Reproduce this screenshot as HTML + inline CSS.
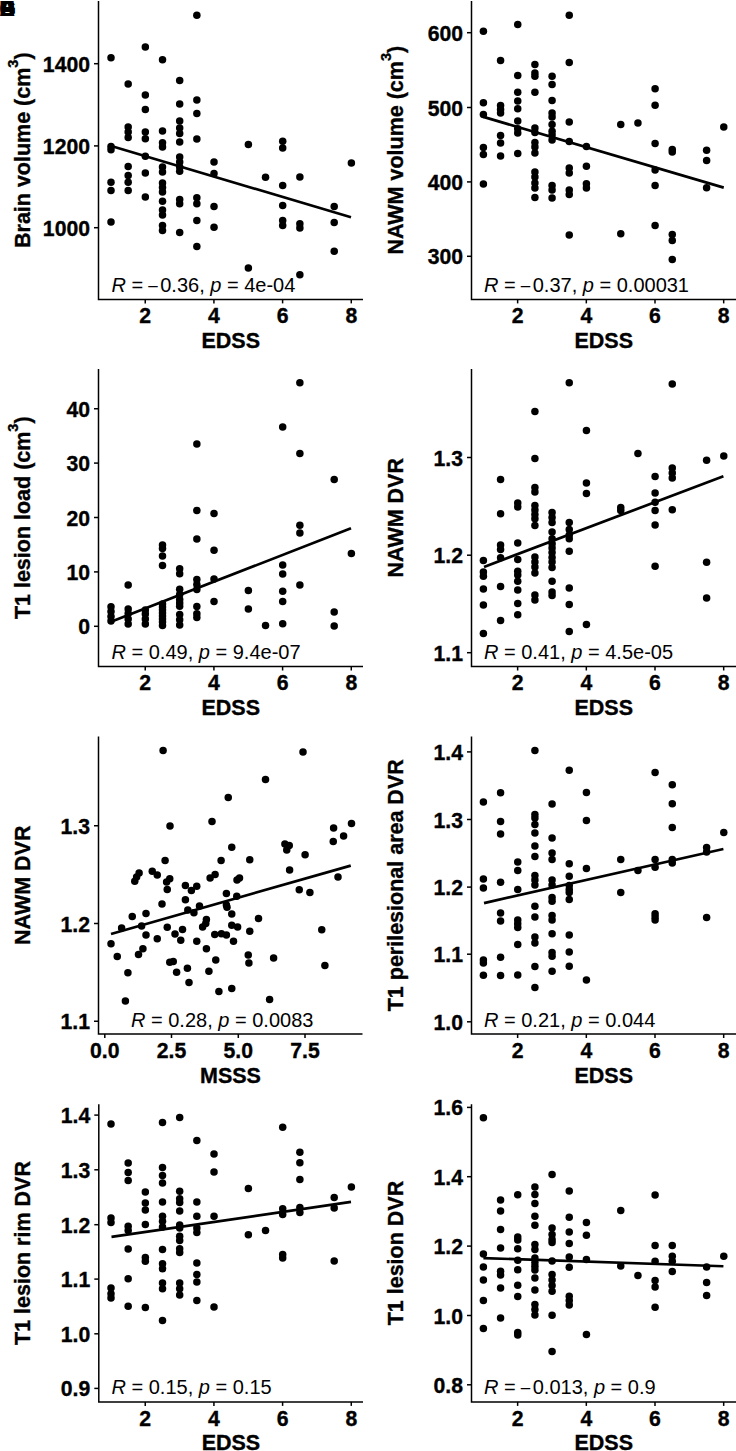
<!DOCTYPE html><html><head><meta charset="utf-8"><style>html,body{margin:0;padding:0;background:#fff;overflow:hidden}svg{display:block}text{font-family:"Liberation Sans", sans-serif;fill:#000}</style></head><body>
<svg width="736" height="1451" viewBox="0 0 736 1451">
<rect width="736" height="1451" fill="#fff"/>
<g font-weight="bold" font-size="21.5"><text x="-0.5" y="16">A</text><text x="-0.5" y="16">B</text><text x="-0.5" y="16">C</text><text x="-0.5" y="16">D</text><text x="-0.5" y="16">E</text><text x="-0.5" y="16">F</text><text x="-0.5" y="16">G</text><text x="-0.5" y="16">H</text></g>
<g><g fill="#000"><circle cx="111.00" cy="57.75" r="3.75"/><circle cx="111.00" cy="146.50" r="3.75"/><circle cx="111.00" cy="149.75" r="3.75"/><circle cx="111.00" cy="182.25" r="3.75"/><circle cx="111.00" cy="190.60" r="3.75"/><circle cx="111.00" cy="221.90" r="3.75"/><circle cx="128.17" cy="84.00" r="3.75"/><circle cx="128.17" cy="126.90" r="3.75"/><circle cx="128.17" cy="131.90" r="3.75"/><circle cx="128.17" cy="137.50" r="3.75"/><circle cx="128.17" cy="166.50" r="3.75"/><circle cx="128.17" cy="175.60" r="3.75"/><circle cx="128.17" cy="182.25" r="3.75"/><circle cx="128.17" cy="190.40" r="3.75"/><circle cx="145.34" cy="46.90" r="3.75"/><circle cx="145.34" cy="95.00" r="3.75"/><circle cx="145.34" cy="109.60" r="3.75"/><circle cx="145.34" cy="131.90" r="3.75"/><circle cx="145.34" cy="138.75" r="3.75"/><circle cx="145.34" cy="156.25" r="3.75"/><circle cx="145.34" cy="172.90" r="3.75"/><circle cx="145.34" cy="196.90" r="3.75"/><circle cx="162.51" cy="59.75" r="3.75"/><circle cx="162.51" cy="131.00" r="3.75"/><circle cx="162.51" cy="142.75" r="3.75"/><circle cx="162.51" cy="146.90" r="3.75"/><circle cx="162.51" cy="166.90" r="3.75"/><circle cx="162.51" cy="171.90" r="3.75"/><circle cx="162.51" cy="183.10" r="3.75"/><circle cx="162.51" cy="187.50" r="3.75"/><circle cx="162.51" cy="191.90" r="3.75"/><circle cx="162.51" cy="201.25" r="3.75"/><circle cx="162.51" cy="210.00" r="3.75"/><circle cx="162.51" cy="215.00" r="3.75"/><circle cx="162.51" cy="225.60" r="3.75"/><circle cx="162.51" cy="230.60" r="3.75"/><circle cx="179.68" cy="80.60" r="3.75"/><circle cx="179.68" cy="104.00" r="3.75"/><circle cx="179.68" cy="120.90" r="3.75"/><circle cx="179.68" cy="128.10" r="3.75"/><circle cx="179.68" cy="133.50" r="3.75"/><circle cx="179.68" cy="141.90" r="3.75"/><circle cx="179.68" cy="156.90" r="3.75"/><circle cx="179.68" cy="161.90" r="3.75"/><circle cx="179.68" cy="166.90" r="3.75"/><circle cx="179.68" cy="171.25" r="3.75"/><circle cx="179.68" cy="199.40" r="3.75"/><circle cx="179.68" cy="203.75" r="3.75"/><circle cx="179.68" cy="232.50" r="3.75"/><circle cx="196.85" cy="15.25" r="3.75"/><circle cx="196.85" cy="100.00" r="3.75"/><circle cx="196.85" cy="113.40" r="3.75"/><circle cx="196.85" cy="139.00" r="3.75"/><circle cx="196.85" cy="197.75" r="3.75"/><circle cx="196.85" cy="203.75" r="3.75"/><circle cx="196.85" cy="220.60" r="3.75"/><circle cx="196.85" cy="246.60" r="3.75"/><circle cx="214.02" cy="161.90" r="3.75"/><circle cx="214.02" cy="173.50" r="3.75"/><circle cx="214.02" cy="206.50" r="3.75"/><circle cx="214.02" cy="227.25" r="3.75"/><circle cx="248.36" cy="144.40" r="3.75"/><circle cx="248.36" cy="268.10" r="3.75"/><circle cx="265.53" cy="177.25" r="3.75"/><circle cx="282.70" cy="141.25" r="3.75"/><circle cx="282.70" cy="147.90" r="3.75"/><circle cx="282.70" cy="185.60" r="3.75"/><circle cx="282.70" cy="205.40" r="3.75"/><circle cx="282.70" cy="220.60" r="3.75"/><circle cx="282.70" cy="225.40" r="3.75"/><circle cx="299.87" cy="177.10" r="3.75"/><circle cx="299.87" cy="223.75" r="3.75"/><circle cx="299.87" cy="228.10" r="3.75"/><circle cx="299.87" cy="274.75" r="3.75"/><circle cx="334.21" cy="206.60" r="3.75"/><circle cx="334.21" cy="222.50" r="3.75"/><circle cx="334.21" cy="251.25" r="3.75"/><circle cx="351.38" cy="163.10" r="3.75"/></g><line x1="111.25" y1="146.0" x2="351" y2="217.3" stroke="#000" stroke-width="2.7"/><path d="M98.5 1 V299.4 H363" fill="none" stroke="#000" stroke-width="1.5"/><line x1="145.24" y1="299.4" x2="145.24" y2="303.4" stroke="#000" stroke-width="1.5"/><text transform="translate(145.24 323.2) scale(1 1.06)" text-anchor="middle" font-weight="bold" font-size="21.2" stroke="#000" stroke-width="0.35">2</text><line x1="213.92" y1="299.4" x2="213.92" y2="303.4" stroke="#000" stroke-width="1.5"/><text transform="translate(213.92 323.2) scale(1 1.06)" text-anchor="middle" font-weight="bold" font-size="21.2" stroke="#000" stroke-width="0.35">4</text><line x1="282.60" y1="299.4" x2="282.60" y2="303.4" stroke="#000" stroke-width="1.5"/><text transform="translate(282.60 323.2) scale(1 1.06)" text-anchor="middle" font-weight="bold" font-size="21.2" stroke="#000" stroke-width="0.35">6</text><line x1="351.28" y1="299.4" x2="351.28" y2="303.4" stroke="#000" stroke-width="1.5"/><text transform="translate(351.28 323.2) scale(1 1.06)" text-anchor="middle" font-weight="bold" font-size="21.2" stroke="#000" stroke-width="0.35">8</text><line x1="94.0" y1="63.7" x2="98.5" y2="63.7" stroke="#000" stroke-width="1.5"/><text transform="translate(90.0 71.7) scale(1 1.06)" text-anchor="end" font-weight="bold" font-size="21.2" stroke="#000" stroke-width="0.35">1400</text><line x1="94.0" y1="145.9" x2="98.5" y2="145.9" stroke="#000" stroke-width="1.5"/><text transform="translate(90.0 153.9) scale(1 1.06)" text-anchor="end" font-weight="bold" font-size="21.2" stroke="#000" stroke-width="0.35">1200</text><line x1="94.0" y1="227.7" x2="98.5" y2="227.7" stroke="#000" stroke-width="1.5"/><text transform="translate(90.0 235.7) scale(1 1.06)" text-anchor="end" font-weight="bold" font-size="21.2" stroke="#000" stroke-width="0.35">1000</text><text transform="translate(230.75 347.9) scale(1 1.04)" text-anchor="middle" font-weight="bold" font-size="21.5" stroke="#000" stroke-width="0.35">EDSS</text><text transform="translate(29.700000000000003 150.20) rotate(-90) scale(1 1.04)" text-anchor="middle" font-weight="bold" font-size="21.5" stroke="#000" stroke-width="0.35">Brain volume (cm<tspan dy="-11.5" font-size="14.5">3</tspan><tspan dy="11.5">)</tspan></text><text x="111.5" y="291.9" font-size="20.0"><tspan font-style="italic">R</tspan> = <tspan font-size="17" dy="-1.3" dx="-0.6">–</tspan><tspan dx="2.6" dy="1.3">0.36</tspan>, <tspan font-style="italic">p</tspan> = 4e-04</text></g>
<g><g fill="#000"><circle cx="483.40" cy="31.25" r="3.75"/><circle cx="483.40" cy="102.75" r="3.75"/><circle cx="483.40" cy="114.40" r="3.75"/><circle cx="483.40" cy="147.50" r="3.75"/><circle cx="483.40" cy="154.40" r="3.75"/><circle cx="483.40" cy="184.00" r="3.75"/><circle cx="500.57" cy="60.60" r="3.75"/><circle cx="500.57" cy="105.60" r="3.75"/><circle cx="500.57" cy="109.40" r="3.75"/><circle cx="500.57" cy="113.10" r="3.75"/><circle cx="500.57" cy="135.60" r="3.75"/><circle cx="500.57" cy="143.10" r="3.75"/><circle cx="500.57" cy="155.90" r="3.75"/><circle cx="517.74" cy="24.60" r="3.75"/><circle cx="517.74" cy="75.40" r="3.75"/><circle cx="517.74" cy="92.25" r="3.75"/><circle cx="517.74" cy="101.00" r="3.75"/><circle cx="517.74" cy="108.75" r="3.75"/><circle cx="517.74" cy="121.00" r="3.75"/><circle cx="517.74" cy="128.75" r="3.75"/><circle cx="517.74" cy="133.10" r="3.75"/><circle cx="517.74" cy="153.50" r="3.75"/><circle cx="534.91" cy="64.40" r="3.75"/><circle cx="534.91" cy="73.10" r="3.75"/><circle cx="534.91" cy="76.25" r="3.75"/><circle cx="534.91" cy="92.25" r="3.75"/><circle cx="534.91" cy="128.10" r="3.75"/><circle cx="534.91" cy="132.50" r="3.75"/><circle cx="534.91" cy="142.50" r="3.75"/><circle cx="534.91" cy="146.90" r="3.75"/><circle cx="534.91" cy="153.10" r="3.75"/><circle cx="534.91" cy="171.90" r="3.75"/><circle cx="534.91" cy="176.90" r="3.75"/><circle cx="534.91" cy="183.10" r="3.75"/><circle cx="534.91" cy="188.10" r="3.75"/><circle cx="534.91" cy="197.50" r="3.75"/><circle cx="552.08" cy="76.25" r="3.75"/><circle cx="552.08" cy="84.40" r="3.75"/><circle cx="552.08" cy="100.60" r="3.75"/><circle cx="552.08" cy="113.10" r="3.75"/><circle cx="552.08" cy="116.90" r="3.75"/><circle cx="552.08" cy="124.40" r="3.75"/><circle cx="552.08" cy="131.25" r="3.75"/><circle cx="552.08" cy="135.00" r="3.75"/><circle cx="552.08" cy="140.00" r="3.75"/><circle cx="552.08" cy="185.60" r="3.75"/><circle cx="552.08" cy="190.00" r="3.75"/><circle cx="552.08" cy="198.10" r="3.75"/><circle cx="569.25" cy="15.25" r="3.75"/><circle cx="569.25" cy="62.50" r="3.75"/><circle cx="569.25" cy="121.90" r="3.75"/><circle cx="569.25" cy="141.50" r="3.75"/><circle cx="569.25" cy="168.10" r="3.75"/><circle cx="569.25" cy="173.10" r="3.75"/><circle cx="569.25" cy="190.00" r="3.75"/><circle cx="569.25" cy="194.40" r="3.75"/><circle cx="569.25" cy="235.00" r="3.75"/><circle cx="586.42" cy="146.50" r="3.75"/><circle cx="586.42" cy="166.25" r="3.75"/><circle cx="586.42" cy="183.75" r="3.75"/><circle cx="586.42" cy="188.10" r="3.75"/><circle cx="620.76" cy="124.40" r="3.75"/><circle cx="620.76" cy="233.75" r="3.75"/><circle cx="637.93" cy="122.90" r="3.75"/><circle cx="655.10" cy="88.75" r="3.75"/><circle cx="655.10" cy="105.25" r="3.75"/><circle cx="655.10" cy="143.50" r="3.75"/><circle cx="655.10" cy="170.00" r="3.75"/><circle cx="655.10" cy="185.60" r="3.75"/><circle cx="655.10" cy="225.60" r="3.75"/><circle cx="672.27" cy="149.50" r="3.75"/><circle cx="672.27" cy="152.00" r="3.75"/><circle cx="672.27" cy="234.40" r="3.75"/><circle cx="672.27" cy="240.60" r="3.75"/><circle cx="672.27" cy="259.40" r="3.75"/><circle cx="706.61" cy="150.25" r="3.75"/><circle cx="706.61" cy="160.60" r="3.75"/><circle cx="706.61" cy="187.75" r="3.75"/><circle cx="723.78" cy="126.90" r="3.75"/></g><line x1="483.4" y1="116.9" x2="723.75" y2="187.6" stroke="#000" stroke-width="2.7"/><path d="M471.5 1 V299.4 H736" fill="none" stroke="#000" stroke-width="1.5"/><line x1="517.64" y1="299.4" x2="517.64" y2="303.4" stroke="#000" stroke-width="1.5"/><text transform="translate(517.64 323.2) scale(1 1.06)" text-anchor="middle" font-weight="bold" font-size="21.2" stroke="#000" stroke-width="0.35">2</text><line x1="586.32" y1="299.4" x2="586.32" y2="303.4" stroke="#000" stroke-width="1.5"/><text transform="translate(586.32 323.2) scale(1 1.06)" text-anchor="middle" font-weight="bold" font-size="21.2" stroke="#000" stroke-width="0.35">4</text><line x1="655.00" y1="299.4" x2="655.00" y2="303.4" stroke="#000" stroke-width="1.5"/><text transform="translate(655.00 323.2) scale(1 1.06)" text-anchor="middle" font-weight="bold" font-size="21.2" stroke="#000" stroke-width="0.35">6</text><line x1="723.68" y1="299.4" x2="723.68" y2="303.4" stroke="#000" stroke-width="1.5"/><text transform="translate(723.68 323.2) scale(1 1.06)" text-anchor="middle" font-weight="bold" font-size="21.2" stroke="#000" stroke-width="0.35">8</text><line x1="467.0" y1="32.7" x2="471.5" y2="32.7" stroke="#000" stroke-width="1.5"/><text transform="translate(463.0 40.7) scale(1 1.06)" text-anchor="end" font-weight="bold" font-size="21.2" stroke="#000" stroke-width="0.35">600</text><line x1="467.0" y1="107.5" x2="471.5" y2="107.5" stroke="#000" stroke-width="1.5"/><text transform="translate(463.0 115.5) scale(1 1.06)" text-anchor="end" font-weight="bold" font-size="21.2" stroke="#000" stroke-width="0.35">500</text><line x1="467.0" y1="181.9" x2="471.5" y2="181.9" stroke="#000" stroke-width="1.5"/><text transform="translate(463.0 189.9) scale(1 1.06)" text-anchor="end" font-weight="bold" font-size="21.2" stroke="#000" stroke-width="0.35">400</text><line x1="467.0" y1="256.3" x2="471.5" y2="256.3" stroke="#000" stroke-width="1.5"/><text transform="translate(463.0 264.3) scale(1 1.06)" text-anchor="end" font-weight="bold" font-size="21.2" stroke="#000" stroke-width="0.35">300</text><text transform="translate(603.75 347.9) scale(1 1.04)" text-anchor="middle" font-weight="bold" font-size="21.5" stroke="#000" stroke-width="0.35">EDSS</text><text transform="translate(402.7 150.20) rotate(-90) scale(1 1.04)" text-anchor="middle" font-weight="bold" font-size="21.5" stroke="#000" stroke-width="0.35">NAWM volume (cm<tspan dy="-11.5" font-size="14.5">3</tspan><tspan dy="11.5">)</tspan></text><text x="484" y="291.9" font-size="20.0"><tspan font-style="italic">R</tspan> = <tspan font-size="17" dy="-1.3" dx="-0.6">–</tspan><tspan dx="2.6" dy="1.3">0.37</tspan>, <tspan font-style="italic">p</tspan> = 0.00031</text></g>
<g><g fill="#000"><circle cx="111.00" cy="606.70" r="3.75"/><circle cx="111.00" cy="611.50" r="3.75"/><circle cx="111.00" cy="616.50" r="3.75"/><circle cx="111.00" cy="621.00" r="3.75"/><circle cx="128.17" cy="585.00" r="3.75"/><circle cx="128.17" cy="608.90" r="3.75"/><circle cx="128.17" cy="613.50" r="3.75"/><circle cx="128.17" cy="619.00" r="3.75"/><circle cx="128.17" cy="624.00" r="3.75"/><circle cx="145.34" cy="610.00" r="3.75"/><circle cx="145.34" cy="614.00" r="3.75"/><circle cx="145.34" cy="619.00" r="3.75"/><circle cx="145.34" cy="624.00" r="3.75"/><circle cx="162.51" cy="545.00" r="3.75"/><circle cx="162.51" cy="548.50" r="3.75"/><circle cx="162.51" cy="556.00" r="3.75"/><circle cx="162.51" cy="565.60" r="3.75"/><circle cx="162.51" cy="604.00" r="3.75"/><circle cx="162.51" cy="607.00" r="3.75"/><circle cx="162.51" cy="610.00" r="3.75"/><circle cx="162.51" cy="613.00" r="3.75"/><circle cx="162.51" cy="616.00" r="3.75"/><circle cx="162.51" cy="619.00" r="3.75"/><circle cx="162.51" cy="622.00" r="3.75"/><circle cx="162.51" cy="625.60" r="3.75"/><circle cx="179.68" cy="568.75" r="3.75"/><circle cx="179.68" cy="573.75" r="3.75"/><circle cx="179.68" cy="589.30" r="3.75"/><circle cx="179.68" cy="594.50" r="3.75"/><circle cx="179.68" cy="599.50" r="3.75"/><circle cx="179.68" cy="603.00" r="3.75"/><circle cx="179.68" cy="606.30" r="3.75"/><circle cx="179.68" cy="614.50" r="3.75"/><circle cx="179.68" cy="619.80" r="3.75"/><circle cx="179.68" cy="625.00" r="3.75"/><circle cx="196.85" cy="444.00" r="3.75"/><circle cx="196.85" cy="510.40" r="3.75"/><circle cx="196.85" cy="539.10" r="3.75"/><circle cx="196.85" cy="579.40" r="3.75"/><circle cx="196.85" cy="584.40" r="3.75"/><circle cx="196.85" cy="589.40" r="3.75"/><circle cx="196.85" cy="606.60" r="3.75"/><circle cx="196.85" cy="613.75" r="3.75"/><circle cx="196.85" cy="617.50" r="3.75"/><circle cx="214.02" cy="513.50" r="3.75"/><circle cx="214.02" cy="550.25" r="3.75"/><circle cx="214.02" cy="579.00" r="3.75"/><circle cx="214.02" cy="601.50" r="3.75"/><circle cx="248.36" cy="590.60" r="3.75"/><circle cx="248.36" cy="609.10" r="3.75"/><circle cx="265.53" cy="625.40" r="3.75"/><circle cx="282.70" cy="427.10" r="3.75"/><circle cx="282.70" cy="565.00" r="3.75"/><circle cx="282.70" cy="574.00" r="3.75"/><circle cx="282.70" cy="591.25" r="3.75"/><circle cx="282.70" cy="601.50" r="3.75"/><circle cx="282.70" cy="623.75" r="3.75"/><circle cx="299.87" cy="382.75" r="3.75"/><circle cx="299.87" cy="453.40" r="3.75"/><circle cx="299.87" cy="525.25" r="3.75"/><circle cx="299.87" cy="533.10" r="3.75"/><circle cx="299.87" cy="585.00" r="3.75"/><circle cx="334.21" cy="479.60" r="3.75"/><circle cx="334.21" cy="611.90" r="3.75"/><circle cx="334.21" cy="626.00" r="3.75"/><circle cx="351.38" cy="553.40" r="3.75"/></g><line x1="111" y1="621.8" x2="351" y2="528.3" stroke="#000" stroke-width="2.7"/><path d="M98.5 369 V666.5 H363" fill="none" stroke="#000" stroke-width="1.5"/><line x1="145.24" y1="666.5" x2="145.24" y2="670.5" stroke="#000" stroke-width="1.5"/><text transform="translate(145.24 690.3) scale(1 1.06)" text-anchor="middle" font-weight="bold" font-size="21.2" stroke="#000" stroke-width="0.35">2</text><line x1="213.92" y1="666.5" x2="213.92" y2="670.5" stroke="#000" stroke-width="1.5"/><text transform="translate(213.92 690.3) scale(1 1.06)" text-anchor="middle" font-weight="bold" font-size="21.2" stroke="#000" stroke-width="0.35">4</text><line x1="282.60" y1="666.5" x2="282.60" y2="670.5" stroke="#000" stroke-width="1.5"/><text transform="translate(282.60 690.3) scale(1 1.06)" text-anchor="middle" font-weight="bold" font-size="21.2" stroke="#000" stroke-width="0.35">6</text><line x1="351.28" y1="666.5" x2="351.28" y2="670.5" stroke="#000" stroke-width="1.5"/><text transform="translate(351.28 690.3) scale(1 1.06)" text-anchor="middle" font-weight="bold" font-size="21.2" stroke="#000" stroke-width="0.35">8</text><line x1="94.0" y1="408.75" x2="98.5" y2="408.75" stroke="#000" stroke-width="1.5"/><text transform="translate(90.0 416.75) scale(1 1.06)" text-anchor="end" font-weight="bold" font-size="21.2" stroke="#000" stroke-width="0.35">40</text><line x1="94.0" y1="463.1" x2="98.5" y2="463.1" stroke="#000" stroke-width="1.5"/><text transform="translate(90.0 471.1) scale(1 1.06)" text-anchor="end" font-weight="bold" font-size="21.2" stroke="#000" stroke-width="0.35">30</text><line x1="94.0" y1="517.5" x2="98.5" y2="517.5" stroke="#000" stroke-width="1.5"/><text transform="translate(90.0 525.5) scale(1 1.06)" text-anchor="end" font-weight="bold" font-size="21.2" stroke="#000" stroke-width="0.35">20</text><line x1="94.0" y1="571.9" x2="98.5" y2="571.9" stroke="#000" stroke-width="1.5"/><text transform="translate(90.0 579.9) scale(1 1.06)" text-anchor="end" font-weight="bold" font-size="21.2" stroke="#000" stroke-width="0.35">10</text><line x1="94.0" y1="626.3" x2="98.5" y2="626.3" stroke="#000" stroke-width="1.5"/><text transform="translate(90.0 634.3) scale(1 1.06)" text-anchor="end" font-weight="bold" font-size="21.2" stroke="#000" stroke-width="0.35">0</text><text transform="translate(230.75 715.0) scale(1 1.04)" text-anchor="middle" font-weight="bold" font-size="21.5" stroke="#000" stroke-width="0.35">EDSS</text><text transform="translate(29.700000000000003 517.75) rotate(-90) scale(1 1.04)" text-anchor="middle" font-weight="bold" font-size="21.5" stroke="#000" stroke-width="0.35">T1 lesion load (cm<tspan dy="-11.5" font-size="14.5">3</tspan><tspan dy="11.5">)</tspan></text><text x="111.5" y="659.0" font-size="20.0"><tspan font-style="italic">R</tspan> = 0.49, <tspan font-style="italic">p</tspan> = 9.4e-07</text></g>
<g><g fill="#000"><circle cx="483.40" cy="560.40" r="3.75"/><circle cx="483.40" cy="571.90" r="3.75"/><circle cx="483.40" cy="576.25" r="3.75"/><circle cx="483.40" cy="589.10" r="3.75"/><circle cx="483.40" cy="605.00" r="3.75"/><circle cx="483.40" cy="633.50" r="3.75"/><circle cx="500.57" cy="479.60" r="3.75"/><circle cx="500.57" cy="513.75" r="3.75"/><circle cx="500.57" cy="545.00" r="3.75"/><circle cx="500.57" cy="549.40" r="3.75"/><circle cx="500.57" cy="557.75" r="3.75"/><circle cx="500.57" cy="586.50" r="3.75"/><circle cx="500.57" cy="620.60" r="3.75"/><circle cx="517.74" cy="503.10" r="3.75"/><circle cx="517.74" cy="506.90" r="3.75"/><circle cx="517.74" cy="543.10" r="3.75"/><circle cx="517.74" cy="559.40" r="3.75"/><circle cx="517.74" cy="571.25" r="3.75"/><circle cx="517.74" cy="575.00" r="3.75"/><circle cx="517.74" cy="581.25" r="3.75"/><circle cx="517.74" cy="590.00" r="3.75"/><circle cx="517.74" cy="603.50" r="3.75"/><circle cx="517.74" cy="614.75" r="3.75"/><circle cx="534.91" cy="411.60" r="3.75"/><circle cx="534.91" cy="458.40" r="3.75"/><circle cx="534.91" cy="487.50" r="3.75"/><circle cx="534.91" cy="491.90" r="3.75"/><circle cx="534.91" cy="505.60" r="3.75"/><circle cx="534.91" cy="510.00" r="3.75"/><circle cx="534.91" cy="514.40" r="3.75"/><circle cx="534.91" cy="518.75" r="3.75"/><circle cx="534.91" cy="525.60" r="3.75"/><circle cx="534.91" cy="556.90" r="3.75"/><circle cx="534.91" cy="561.90" r="3.75"/><circle cx="534.91" cy="566.90" r="3.75"/><circle cx="534.91" cy="573.10" r="3.75"/><circle cx="534.91" cy="595.00" r="3.75"/><circle cx="534.91" cy="600.00" r="3.75"/><circle cx="552.08" cy="512.50" r="3.75"/><circle cx="552.08" cy="517.50" r="3.75"/><circle cx="552.08" cy="522.50" r="3.75"/><circle cx="552.08" cy="531.90" r="3.75"/><circle cx="552.08" cy="538.75" r="3.75"/><circle cx="552.08" cy="543.75" r="3.75"/><circle cx="552.08" cy="548.10" r="3.75"/><circle cx="552.08" cy="552.50" r="3.75"/><circle cx="552.08" cy="557.50" r="3.75"/><circle cx="552.08" cy="561.90" r="3.75"/><circle cx="552.08" cy="567.50" r="3.75"/><circle cx="552.08" cy="581.25" r="3.75"/><circle cx="552.08" cy="591.90" r="3.75"/><circle cx="552.08" cy="595.60" r="3.75"/><circle cx="569.25" cy="382.75" r="3.75"/><circle cx="569.25" cy="522.50" r="3.75"/><circle cx="569.25" cy="529.40" r="3.75"/><circle cx="569.25" cy="535.00" r="3.75"/><circle cx="569.25" cy="538.75" r="3.75"/><circle cx="569.25" cy="551.25" r="3.75"/><circle cx="569.25" cy="587.90" r="3.75"/><circle cx="569.25" cy="604.40" r="3.75"/><circle cx="569.25" cy="631.60" r="3.75"/><circle cx="586.42" cy="430.40" r="3.75"/><circle cx="586.42" cy="483.10" r="3.75"/><circle cx="586.42" cy="493.40" r="3.75"/><circle cx="586.42" cy="624.60" r="3.75"/><circle cx="620.76" cy="507.50" r="3.75"/><circle cx="620.76" cy="510.60" r="3.75"/><circle cx="637.93" cy="453.50" r="3.75"/><circle cx="655.10" cy="476.50" r="3.75"/><circle cx="655.10" cy="493.10" r="3.75"/><circle cx="655.10" cy="502.25" r="3.75"/><circle cx="655.10" cy="510.60" r="3.75"/><circle cx="655.10" cy="525.00" r="3.75"/><circle cx="655.10" cy="566.25" r="3.75"/><circle cx="672.27" cy="384.10" r="3.75"/><circle cx="672.27" cy="468.10" r="3.75"/><circle cx="672.27" cy="473.10" r="3.75"/><circle cx="672.27" cy="478.10" r="3.75"/><circle cx="672.27" cy="509.75" r="3.75"/><circle cx="706.61" cy="460.25" r="3.75"/><circle cx="706.61" cy="562.25" r="3.75"/><circle cx="706.61" cy="597.90" r="3.75"/><circle cx="723.78" cy="456.00" r="3.75"/></g><line x1="484" y1="566.9" x2="723.4" y2="476.25" stroke="#000" stroke-width="2.7"/><path d="M471.5 369 V666.5 H736" fill="none" stroke="#000" stroke-width="1.5"/><line x1="517.64" y1="666.5" x2="517.64" y2="670.5" stroke="#000" stroke-width="1.5"/><text transform="translate(517.64 690.3) scale(1 1.06)" text-anchor="middle" font-weight="bold" font-size="21.2" stroke="#000" stroke-width="0.35">2</text><line x1="586.32" y1="666.5" x2="586.32" y2="670.5" stroke="#000" stroke-width="1.5"/><text transform="translate(586.32 690.3) scale(1 1.06)" text-anchor="middle" font-weight="bold" font-size="21.2" stroke="#000" stroke-width="0.35">4</text><line x1="655.00" y1="666.5" x2="655.00" y2="670.5" stroke="#000" stroke-width="1.5"/><text transform="translate(655.00 690.3) scale(1 1.06)" text-anchor="middle" font-weight="bold" font-size="21.2" stroke="#000" stroke-width="0.35">6</text><line x1="723.68" y1="666.5" x2="723.68" y2="670.5" stroke="#000" stroke-width="1.5"/><text transform="translate(723.68 690.3) scale(1 1.06)" text-anchor="middle" font-weight="bold" font-size="21.2" stroke="#000" stroke-width="0.35">8</text><line x1="467.0" y1="457.5" x2="471.5" y2="457.5" stroke="#000" stroke-width="1.5"/><text transform="translate(463.0 465.5) scale(1 1.06)" text-anchor="end" font-weight="bold" font-size="21.2" stroke="#000" stroke-width="0.35">1.3</text><line x1="467.0" y1="555.2" x2="471.5" y2="555.2" stroke="#000" stroke-width="1.5"/><text transform="translate(463.0 563.2) scale(1 1.06)" text-anchor="end" font-weight="bold" font-size="21.2" stroke="#000" stroke-width="0.35">1.2</text><line x1="467.0" y1="652.7" x2="471.5" y2="652.7" stroke="#000" stroke-width="1.5"/><text transform="translate(463.0 660.7) scale(1 1.06)" text-anchor="end" font-weight="bold" font-size="21.2" stroke="#000" stroke-width="0.35">1.1</text><text transform="translate(603.75 715.0) scale(1 1.04)" text-anchor="middle" font-weight="bold" font-size="21.5" stroke="#000" stroke-width="0.35">EDSS</text><text transform="translate(402.7 517.75) rotate(-90) scale(1 1.04)" text-anchor="middle" font-weight="bold" font-size="21.5" stroke="#000" stroke-width="0.35">NAWM DVR</text><text x="484" y="659.0" font-size="20.0"><tspan font-style="italic">R</tspan> = 0.41, <tspan font-style="italic">p</tspan> = 4.5e-05</text></g>
<g><g fill="#000"><circle cx="163.10" cy="750.40" r="3.75"/><circle cx="170.00" cy="825.90" r="3.75"/><circle cx="165.10" cy="860.60" r="3.75"/><circle cx="139.10" cy="873.10" r="3.75"/><circle cx="136.60" cy="876.90" r="3.75"/><circle cx="134.75" cy="881.25" r="3.75"/><circle cx="152.25" cy="871.25" r="3.75"/><circle cx="157.25" cy="875.00" r="3.75"/><circle cx="169.75" cy="878.75" r="3.75"/><circle cx="166.60" cy="881.90" r="3.75"/><circle cx="167.25" cy="889.40" r="3.75"/><circle cx="185.40" cy="885.60" r="3.75"/><circle cx="162.00" cy="904.10" r="3.75"/><circle cx="185.40" cy="899.75" r="3.75"/><circle cx="187.80" cy="910.00" r="3.75"/><circle cx="132.25" cy="916.50" r="3.75"/><circle cx="146.00" cy="913.50" r="3.75"/><circle cx="121.60" cy="927.90" r="3.75"/><circle cx="141.60" cy="926.00" r="3.75"/><circle cx="167.25" cy="927.25" r="3.75"/><circle cx="182.50" cy="929.40" r="3.75"/><circle cx="175.00" cy="934.00" r="3.75"/><circle cx="180.75" cy="940.25" r="3.75"/><circle cx="146.00" cy="935.00" r="3.75"/><circle cx="157.25" cy="938.75" r="3.75"/><circle cx="111.00" cy="943.75" r="3.75"/><circle cx="142.90" cy="948.75" r="3.75"/><circle cx="138.50" cy="954.40" r="3.75"/><circle cx="117.25" cy="956.60" r="3.75"/><circle cx="169.75" cy="962.25" r="3.75"/><circle cx="173.25" cy="961.60" r="3.75"/><circle cx="176.60" cy="972.25" r="3.75"/><circle cx="187.40" cy="968.20" r="3.75"/><circle cx="189.00" cy="982.50" r="3.75"/><circle cx="127.90" cy="972.75" r="3.75"/><circle cx="125.40" cy="1001.00" r="3.75"/><circle cx="265.50" cy="779.40" r="3.75"/><circle cx="228.25" cy="797.50" r="3.75"/><circle cx="212.00" cy="821.50" r="3.75"/><circle cx="231.75" cy="847.25" r="3.75"/><circle cx="221.10" cy="860.60" r="3.75"/><circle cx="249.75" cy="859.75" r="3.75"/><circle cx="215.10" cy="874.60" r="3.75"/><circle cx="210.10" cy="878.10" r="3.75"/><circle cx="239.50" cy="878.10" r="3.75"/><circle cx="237.00" cy="880.00" r="3.75"/><circle cx="196.75" cy="886.25" r="3.75"/><circle cx="191.40" cy="890.50" r="3.75"/><circle cx="226.40" cy="893.50" r="3.75"/><circle cx="236.75" cy="896.25" r="3.75"/><circle cx="199.50" cy="906.00" r="3.75"/><circle cx="226.40" cy="905.00" r="3.75"/><circle cx="227.00" cy="907.25" r="3.75"/><circle cx="193.90" cy="912.75" r="3.75"/><circle cx="231.75" cy="914.00" r="3.75"/><circle cx="258.50" cy="918.50" r="3.75"/><circle cx="206.40" cy="919.40" r="3.75"/><circle cx="205.75" cy="923.50" r="3.75"/><circle cx="202.60" cy="926.90" r="3.75"/><circle cx="231.75" cy="925.25" r="3.75"/><circle cx="237.60" cy="926.90" r="3.75"/><circle cx="249.75" cy="931.25" r="3.75"/><circle cx="214.75" cy="934.40" r="3.75"/><circle cx="221.40" cy="933.75" r="3.75"/><circle cx="226.40" cy="935.00" r="3.75"/><circle cx="196.75" cy="941.25" r="3.75"/><circle cx="233.50" cy="941.25" r="3.75"/><circle cx="206.40" cy="948.75" r="3.75"/><circle cx="248.25" cy="955.00" r="3.75"/><circle cx="248.90" cy="963.10" r="3.75"/><circle cx="215.75" cy="960.00" r="3.75"/><circle cx="273.60" cy="958.10" r="3.75"/><circle cx="208.90" cy="971.25" r="3.75"/><circle cx="218.90" cy="991.60" r="3.75"/><circle cx="231.75" cy="988.50" r="3.75"/><circle cx="269.60" cy="999.40" r="3.75"/><circle cx="303.00" cy="751.90" r="3.75"/><circle cx="333.60" cy="827.90" r="3.75"/><circle cx="351.50" cy="823.50" r="3.75"/><circle cx="343.60" cy="835.90" r="3.75"/><circle cx="333.25" cy="841.50" r="3.75"/><circle cx="284.90" cy="844.00" r="3.75"/><circle cx="289.25" cy="845.60" r="3.75"/><circle cx="286.75" cy="850.00" r="3.75"/><circle cx="305.10" cy="854.75" r="3.75"/><circle cx="289.60" cy="870.00" r="3.75"/><circle cx="338.00" cy="876.90" r="3.75"/><circle cx="299.25" cy="889.75" r="3.75"/><circle cx="309.90" cy="892.50" r="3.75"/><circle cx="321.75" cy="929.75" r="3.75"/><circle cx="324.90" cy="965.60" r="3.75"/></g><line x1="111" y1="934" x2="350.75" y2="865.6" stroke="#000" stroke-width="2.7"/><path d="M98.5 736.5 V1034 H362.5" fill="none" stroke="#000" stroke-width="1.5"/><line x1="104.80" y1="1034" x2="104.80" y2="1038" stroke="#000" stroke-width="1.5"/><text transform="translate(104.80 1057.8) scale(1 1.06)" text-anchor="middle" font-weight="bold" font-size="21.2" stroke="#000" stroke-width="0.35">0.0</text><line x1="171.50" y1="1034" x2="171.50" y2="1038" stroke="#000" stroke-width="1.5"/><text transform="translate(171.50 1057.8) scale(1 1.06)" text-anchor="middle" font-weight="bold" font-size="21.2" stroke="#000" stroke-width="0.35">2.5</text><line x1="238.30" y1="1034" x2="238.30" y2="1038" stroke="#000" stroke-width="1.5"/><text transform="translate(238.30 1057.8) scale(1 1.06)" text-anchor="middle" font-weight="bold" font-size="21.2" stroke="#000" stroke-width="0.35">5.0</text><line x1="305.00" y1="1034" x2="305.00" y2="1038" stroke="#000" stroke-width="1.5"/><text transform="translate(305.00 1057.8) scale(1 1.06)" text-anchor="middle" font-weight="bold" font-size="21.2" stroke="#000" stroke-width="0.35">7.5</text><line x1="94.0" y1="825.75" x2="98.5" y2="825.75" stroke="#000" stroke-width="1.5"/><text transform="translate(90.0 833.75) scale(1 1.06)" text-anchor="end" font-weight="bold" font-size="21.2" stroke="#000" stroke-width="0.35">1.3</text><line x1="94.0" y1="923.5" x2="98.5" y2="923.5" stroke="#000" stroke-width="1.5"/><text transform="translate(90.0 931.5) scale(1 1.06)" text-anchor="end" font-weight="bold" font-size="21.2" stroke="#000" stroke-width="0.35">1.2</text><line x1="94.0" y1="1021.25" x2="98.5" y2="1021.25" stroke="#000" stroke-width="1.5"/><text transform="translate(90.0 1029.25) scale(1 1.06)" text-anchor="end" font-weight="bold" font-size="21.2" stroke="#000" stroke-width="0.35">1.1</text><text transform="translate(230.50 1082.5) scale(1 1.04)" text-anchor="middle" font-weight="bold" font-size="21.5" stroke="#000" stroke-width="0.35">MSSS</text><text transform="translate(29.700000000000003 885.25) rotate(-90) scale(1 1.04)" text-anchor="middle" font-weight="bold" font-size="21.5" stroke="#000" stroke-width="0.35">NAWM DVR</text><text x="131" y="1026.5" font-size="20.0"><tspan font-style="italic">R</tspan> = 0.28, <tspan font-style="italic">p</tspan> = 0.0083</text></g>
<g><g fill="#000"><circle cx="483.40" cy="801.90" r="3.75"/><circle cx="483.40" cy="879.00" r="3.75"/><circle cx="483.40" cy="888.10" r="3.75"/><circle cx="483.40" cy="960.00" r="3.75"/><circle cx="483.40" cy="963.10" r="3.75"/><circle cx="483.40" cy="975.25" r="3.75"/><circle cx="500.57" cy="792.75" r="3.75"/><circle cx="500.57" cy="821.50" r="3.75"/><circle cx="500.57" cy="834.00" r="3.75"/><circle cx="500.57" cy="882.25" r="3.75"/><circle cx="500.57" cy="913.10" r="3.75"/><circle cx="500.57" cy="921.00" r="3.75"/><circle cx="500.57" cy="957.25" r="3.75"/><circle cx="500.57" cy="975.60" r="3.75"/><circle cx="517.74" cy="861.90" r="3.75"/><circle cx="517.74" cy="870.60" r="3.75"/><circle cx="517.74" cy="889.40" r="3.75"/><circle cx="517.74" cy="920.00" r="3.75"/><circle cx="517.74" cy="923.75" r="3.75"/><circle cx="517.74" cy="927.50" r="3.75"/><circle cx="517.74" cy="944.40" r="3.75"/><circle cx="517.74" cy="975.00" r="3.75"/><circle cx="534.91" cy="750.60" r="3.75"/><circle cx="534.91" cy="814.40" r="3.75"/><circle cx="534.91" cy="818.10" r="3.75"/><circle cx="534.91" cy="824.40" r="3.75"/><circle cx="534.91" cy="833.10" r="3.75"/><circle cx="534.91" cy="846.00" r="3.75"/><circle cx="534.91" cy="856.50" r="3.75"/><circle cx="534.91" cy="875.60" r="3.75"/><circle cx="534.91" cy="880.00" r="3.75"/><circle cx="534.91" cy="885.00" r="3.75"/><circle cx="534.91" cy="906.25" r="3.75"/><circle cx="534.91" cy="916.90" r="3.75"/><circle cx="534.91" cy="936.90" r="3.75"/><circle cx="534.91" cy="943.10" r="3.75"/><circle cx="534.91" cy="966.50" r="3.75"/><circle cx="534.91" cy="987.50" r="3.75"/><circle cx="552.08" cy="804.00" r="3.75"/><circle cx="552.08" cy="837.90" r="3.75"/><circle cx="552.08" cy="853.10" r="3.75"/><circle cx="552.08" cy="859.40" r="3.75"/><circle cx="552.08" cy="880.00" r="3.75"/><circle cx="552.08" cy="885.00" r="3.75"/><circle cx="552.08" cy="897.50" r="3.75"/><circle cx="552.08" cy="901.25" r="3.75"/><circle cx="552.08" cy="915.60" r="3.75"/><circle cx="552.08" cy="920.00" r="3.75"/><circle cx="552.08" cy="933.75" r="3.75"/><circle cx="552.08" cy="952.50" r="3.75"/><circle cx="552.08" cy="956.25" r="3.75"/><circle cx="552.08" cy="971.25" r="3.75"/><circle cx="569.25" cy="770.25" r="3.75"/><circle cx="569.25" cy="863.75" r="3.75"/><circle cx="569.25" cy="876.25" r="3.75"/><circle cx="569.25" cy="885.60" r="3.75"/><circle cx="569.25" cy="889.40" r="3.75"/><circle cx="569.25" cy="892.50" r="3.75"/><circle cx="569.25" cy="899.40" r="3.75"/><circle cx="569.25" cy="935.00" r="3.75"/><circle cx="569.25" cy="951.90" r="3.75"/><circle cx="569.25" cy="966.25" r="3.75"/><circle cx="586.42" cy="792.50" r="3.75"/><circle cx="586.42" cy="820.60" r="3.75"/><circle cx="586.42" cy="868.50" r="3.75"/><circle cx="586.42" cy="980.00" r="3.75"/><circle cx="620.76" cy="859.40" r="3.75"/><circle cx="620.76" cy="892.50" r="3.75"/><circle cx="637.93" cy="870.60" r="3.75"/><circle cx="655.10" cy="772.50" r="3.75"/><circle cx="655.10" cy="859.40" r="3.75"/><circle cx="655.10" cy="867.25" r="3.75"/><circle cx="655.10" cy="913.75" r="3.75"/><circle cx="655.10" cy="916.90" r="3.75"/><circle cx="655.10" cy="920.00" r="3.75"/><circle cx="672.27" cy="784.75" r="3.75"/><circle cx="672.27" cy="803.75" r="3.75"/><circle cx="672.27" cy="827.50" r="3.75"/><circle cx="672.27" cy="859.40" r="3.75"/><circle cx="672.27" cy="863.10" r="3.75"/><circle cx="706.61" cy="847.50" r="3.75"/><circle cx="706.61" cy="851.90" r="3.75"/><circle cx="706.61" cy="917.50" r="3.75"/><circle cx="723.78" cy="832.50" r="3.75"/></g><line x1="484" y1="903.1" x2="723.4" y2="849" stroke="#000" stroke-width="2.7"/><path d="M471.5 736.5 V1034 H736" fill="none" stroke="#000" stroke-width="1.5"/><line x1="517.64" y1="1034" x2="517.64" y2="1038" stroke="#000" stroke-width="1.5"/><text transform="translate(517.64 1057.8) scale(1 1.06)" text-anchor="middle" font-weight="bold" font-size="21.2" stroke="#000" stroke-width="0.35">2</text><line x1="586.32" y1="1034" x2="586.32" y2="1038" stroke="#000" stroke-width="1.5"/><text transform="translate(586.32 1057.8) scale(1 1.06)" text-anchor="middle" font-weight="bold" font-size="21.2" stroke="#000" stroke-width="0.35">4</text><line x1="655.00" y1="1034" x2="655.00" y2="1038" stroke="#000" stroke-width="1.5"/><text transform="translate(655.00 1057.8) scale(1 1.06)" text-anchor="middle" font-weight="bold" font-size="21.2" stroke="#000" stroke-width="0.35">6</text><line x1="723.68" y1="1034" x2="723.68" y2="1038" stroke="#000" stroke-width="1.5"/><text transform="translate(723.68 1057.8) scale(1 1.06)" text-anchor="middle" font-weight="bold" font-size="21.2" stroke="#000" stroke-width="0.35">8</text><line x1="467.0" y1="751.9" x2="471.5" y2="751.9" stroke="#000" stroke-width="1.5"/><text transform="translate(463.0 759.9) scale(1 1.06)" text-anchor="end" font-weight="bold" font-size="21.2" stroke="#000" stroke-width="0.35">1.4</text><line x1="467.0" y1="819.5" x2="471.5" y2="819.5" stroke="#000" stroke-width="1.5"/><text transform="translate(463.0 827.5) scale(1 1.06)" text-anchor="end" font-weight="bold" font-size="21.2" stroke="#000" stroke-width="0.35">1.3</text><line x1="467.0" y1="887.1" x2="471.5" y2="887.1" stroke="#000" stroke-width="1.5"/><text transform="translate(463.0 895.1) scale(1 1.06)" text-anchor="end" font-weight="bold" font-size="21.2" stroke="#000" stroke-width="0.35">1.2</text><line x1="467.0" y1="954.2" x2="471.5" y2="954.2" stroke="#000" stroke-width="1.5"/><text transform="translate(463.0 962.2) scale(1 1.06)" text-anchor="end" font-weight="bold" font-size="21.2" stroke="#000" stroke-width="0.35">1.1</text><line x1="467.0" y1="1021.8" x2="471.5" y2="1021.8" stroke="#000" stroke-width="1.5"/><text transform="translate(463.0 1029.8) scale(1 1.06)" text-anchor="end" font-weight="bold" font-size="21.2" stroke="#000" stroke-width="0.35">1.0</text><text transform="translate(603.75 1082.5) scale(1 1.04)" text-anchor="middle" font-weight="bold" font-size="21.5" stroke="#000" stroke-width="0.35">EDSS</text><text transform="translate(402.7 885.25) rotate(-90) scale(1 1.04)" text-anchor="middle" font-weight="bold" font-size="21.5" stroke="#000" stroke-width="0.35">T1 perilesional area DVR</text><text x="484" y="1026.5" font-size="20.0"><tspan font-style="italic">R</tspan> = 0.21, <tspan font-style="italic">p</tspan> = 0.044</text></g>
<g><g fill="#000"><circle cx="111.00" cy="1124.00" r="3.75"/><circle cx="111.00" cy="1218.10" r="3.75"/><circle cx="111.00" cy="1222.50" r="3.75"/><circle cx="111.00" cy="1288.10" r="3.75"/><circle cx="111.00" cy="1293.75" r="3.75"/><circle cx="111.00" cy="1298.10" r="3.75"/><circle cx="128.17" cy="1163.10" r="3.75"/><circle cx="128.17" cy="1172.50" r="3.75"/><circle cx="128.17" cy="1180.60" r="3.75"/><circle cx="128.17" cy="1226.25" r="3.75"/><circle cx="128.17" cy="1230.60" r="3.75"/><circle cx="128.17" cy="1249.00" r="3.75"/><circle cx="128.17" cy="1278.75" r="3.75"/><circle cx="128.17" cy="1306.25" r="3.75"/><circle cx="145.34" cy="1191.90" r="3.75"/><circle cx="145.34" cy="1203.10" r="3.75"/><circle cx="145.34" cy="1210.00" r="3.75"/><circle cx="145.34" cy="1224.60" r="3.75"/><circle cx="145.34" cy="1257.50" r="3.75"/><circle cx="145.34" cy="1261.25" r="3.75"/><circle cx="145.34" cy="1307.50" r="3.75"/><circle cx="162.51" cy="1122.50" r="3.75"/><circle cx="162.51" cy="1167.50" r="3.75"/><circle cx="162.51" cy="1175.60" r="3.75"/><circle cx="162.51" cy="1183.10" r="3.75"/><circle cx="162.51" cy="1201.90" r="3.75"/><circle cx="162.51" cy="1216.25" r="3.75"/><circle cx="162.51" cy="1221.25" r="3.75"/><circle cx="162.51" cy="1226.90" r="3.75"/><circle cx="162.51" cy="1249.40" r="3.75"/><circle cx="162.51" cy="1263.75" r="3.75"/><circle cx="162.51" cy="1268.75" r="3.75"/><circle cx="162.51" cy="1283.10" r="3.75"/><circle cx="162.51" cy="1288.75" r="3.75"/><circle cx="162.51" cy="1320.40" r="3.75"/><circle cx="179.68" cy="1117.50" r="3.75"/><circle cx="179.68" cy="1191.25" r="3.75"/><circle cx="179.68" cy="1198.75" r="3.75"/><circle cx="179.68" cy="1202.50" r="3.75"/><circle cx="179.68" cy="1211.00" r="3.75"/><circle cx="179.68" cy="1225.00" r="3.75"/><circle cx="179.68" cy="1228.10" r="3.75"/><circle cx="179.68" cy="1236.25" r="3.75"/><circle cx="179.68" cy="1240.60" r="3.75"/><circle cx="179.68" cy="1248.75" r="3.75"/><circle cx="179.68" cy="1252.50" r="3.75"/><circle cx="179.68" cy="1283.10" r="3.75"/><circle cx="179.68" cy="1288.75" r="3.75"/><circle cx="179.68" cy="1295.00" r="3.75"/><circle cx="196.85" cy="1140.60" r="3.75"/><circle cx="196.85" cy="1201.90" r="3.75"/><circle cx="196.85" cy="1216.25" r="3.75"/><circle cx="196.85" cy="1228.10" r="3.75"/><circle cx="196.85" cy="1232.50" r="3.75"/><circle cx="196.85" cy="1263.10" r="3.75"/><circle cx="196.85" cy="1274.40" r="3.75"/><circle cx="196.85" cy="1281.90" r="3.75"/><circle cx="196.85" cy="1300.60" r="3.75"/><circle cx="214.02" cy="1154.10" r="3.75"/><circle cx="214.02" cy="1172.10" r="3.75"/><circle cx="214.02" cy="1216.25" r="3.75"/><circle cx="214.02" cy="1307.10" r="3.75"/><circle cx="248.36" cy="1188.50" r="3.75"/><circle cx="248.36" cy="1234.75" r="3.75"/><circle cx="265.53" cy="1230.40" r="3.75"/><circle cx="282.70" cy="1127.25" r="3.75"/><circle cx="282.70" cy="1208.75" r="3.75"/><circle cx="282.70" cy="1214.40" r="3.75"/><circle cx="282.70" cy="1254.40" r="3.75"/><circle cx="282.70" cy="1258.10" r="3.75"/><circle cx="299.87" cy="1152.25" r="3.75"/><circle cx="299.87" cy="1162.75" r="3.75"/><circle cx="299.87" cy="1179.60" r="3.75"/><circle cx="299.87" cy="1207.50" r="3.75"/><circle cx="299.87" cy="1212.50" r="3.75"/><circle cx="334.21" cy="1197.50" r="3.75"/><circle cx="334.21" cy="1208.10" r="3.75"/><circle cx="334.21" cy="1261.00" r="3.75"/><circle cx="351.38" cy="1186.90" r="3.75"/></g><line x1="111.5" y1="1236.9" x2="351" y2="1201.9" stroke="#000" stroke-width="2.7"/><path d="M98.8 1104.2 V1401.9 H363" fill="none" stroke="#000" stroke-width="1.5"/><line x1="145.24" y1="1401.9" x2="145.24" y2="1405.9" stroke="#000" stroke-width="1.5"/><text transform="translate(145.24 1425.7) scale(1 1.06)" text-anchor="middle" font-weight="bold" font-size="21.2" stroke="#000" stroke-width="0.35">2</text><line x1="213.92" y1="1401.9" x2="213.92" y2="1405.9" stroke="#000" stroke-width="1.5"/><text transform="translate(213.92 1425.7) scale(1 1.06)" text-anchor="middle" font-weight="bold" font-size="21.2" stroke="#000" stroke-width="0.35">4</text><line x1="282.60" y1="1401.9" x2="282.60" y2="1405.9" stroke="#000" stroke-width="1.5"/><text transform="translate(282.60 1425.7) scale(1 1.06)" text-anchor="middle" font-weight="bold" font-size="21.2" stroke="#000" stroke-width="0.35">6</text><line x1="351.28" y1="1401.9" x2="351.28" y2="1405.9" stroke="#000" stroke-width="1.5"/><text transform="translate(351.28 1425.7) scale(1 1.06)" text-anchor="middle" font-weight="bold" font-size="21.2" stroke="#000" stroke-width="0.35">8</text><line x1="94.3" y1="1115.1" x2="98.8" y2="1115.1" stroke="#000" stroke-width="1.5"/><text transform="translate(90.3 1123.1) scale(1 1.06)" text-anchor="end" font-weight="bold" font-size="21.2" stroke="#000" stroke-width="0.35">1.4</text><line x1="94.3" y1="1169.8" x2="98.8" y2="1169.8" stroke="#000" stroke-width="1.5"/><text transform="translate(90.3 1177.8) scale(1 1.06)" text-anchor="end" font-weight="bold" font-size="21.2" stroke="#000" stroke-width="0.35">1.3</text><line x1="94.3" y1="1224.7" x2="98.8" y2="1224.7" stroke="#000" stroke-width="1.5"/><text transform="translate(90.3 1232.7) scale(1 1.06)" text-anchor="end" font-weight="bold" font-size="21.2" stroke="#000" stroke-width="0.35">1.2</text><line x1="94.3" y1="1279.1" x2="98.8" y2="1279.1" stroke="#000" stroke-width="1.5"/><text transform="translate(90.3 1287.1) scale(1 1.06)" text-anchor="end" font-weight="bold" font-size="21.2" stroke="#000" stroke-width="0.35">1.1</text><line x1="94.3" y1="1333.8" x2="98.8" y2="1333.8" stroke="#000" stroke-width="1.5"/><text transform="translate(90.3 1341.8) scale(1 1.06)" text-anchor="end" font-weight="bold" font-size="21.2" stroke="#000" stroke-width="0.35">1.0</text><line x1="94.3" y1="1388.4" x2="98.8" y2="1388.4" stroke="#000" stroke-width="1.5"/><text transform="translate(90.3 1396.4) scale(1 1.06)" text-anchor="end" font-weight="bold" font-size="21.2" stroke="#000" stroke-width="0.35">0.9</text><text transform="translate(230.90 1450.4) scale(1 1.04)" text-anchor="middle" font-weight="bold" font-size="21.5" stroke="#000" stroke-width="0.35">EDSS</text><text transform="translate(30.0 1253.05) rotate(-90) scale(1 1.04)" text-anchor="middle" font-weight="bold" font-size="21.5" stroke="#000" stroke-width="0.35">T1 lesion rim DVR</text><text x="111.5" y="1394.4" font-size="20.0"><tspan font-style="italic">R</tspan> = 0.15, <tspan font-style="italic">p</tspan> = 0.15</text></g>
<g><g fill="#000"><circle cx="483.40" cy="1117.75" r="3.75"/><circle cx="483.40" cy="1254.00" r="3.75"/><circle cx="483.40" cy="1266.90" r="3.75"/><circle cx="483.40" cy="1280.00" r="3.75"/><circle cx="483.40" cy="1300.40" r="3.75"/><circle cx="483.40" cy="1328.50" r="3.75"/><circle cx="500.57" cy="1200.00" r="3.75"/><circle cx="500.57" cy="1211.00" r="3.75"/><circle cx="500.57" cy="1229.60" r="3.75"/><circle cx="500.57" cy="1248.10" r="3.75"/><circle cx="500.57" cy="1271.25" r="3.75"/><circle cx="500.57" cy="1275.00" r="3.75"/><circle cx="500.57" cy="1287.90" r="3.75"/><circle cx="500.57" cy="1317.90" r="3.75"/><circle cx="517.74" cy="1194.75" r="3.75"/><circle cx="517.74" cy="1236.90" r="3.75"/><circle cx="517.74" cy="1240.00" r="3.75"/><circle cx="517.74" cy="1248.75" r="3.75"/><circle cx="517.74" cy="1260.25" r="3.75"/><circle cx="517.74" cy="1269.75" r="3.75"/><circle cx="517.74" cy="1285.25" r="3.75"/><circle cx="517.74" cy="1296.50" r="3.75"/><circle cx="517.74" cy="1332.50" r="3.75"/><circle cx="517.74" cy="1335.00" r="3.75"/><circle cx="534.91" cy="1186.90" r="3.75"/><circle cx="534.91" cy="1194.60" r="3.75"/><circle cx="534.91" cy="1203.40" r="3.75"/><circle cx="534.91" cy="1216.25" r="3.75"/><circle cx="534.91" cy="1225.25" r="3.75"/><circle cx="534.91" cy="1244.40" r="3.75"/><circle cx="534.91" cy="1249.40" r="3.75"/><circle cx="534.91" cy="1258.10" r="3.75"/><circle cx="534.91" cy="1262.50" r="3.75"/><circle cx="534.91" cy="1266.25" r="3.75"/><circle cx="534.91" cy="1270.00" r="3.75"/><circle cx="534.91" cy="1277.90" r="3.75"/><circle cx="534.91" cy="1290.00" r="3.75"/><circle cx="534.91" cy="1304.40" r="3.75"/><circle cx="534.91" cy="1309.40" r="3.75"/><circle cx="534.91" cy="1315.00" r="3.75"/><circle cx="552.08" cy="1174.60" r="3.75"/><circle cx="552.08" cy="1228.10" r="3.75"/><circle cx="552.08" cy="1234.40" r="3.75"/><circle cx="552.08" cy="1239.40" r="3.75"/><circle cx="552.08" cy="1242.50" r="3.75"/><circle cx="552.08" cy="1260.90" r="3.75"/><circle cx="552.08" cy="1274.40" r="3.75"/><circle cx="552.08" cy="1280.00" r="3.75"/><circle cx="552.08" cy="1285.60" r="3.75"/><circle cx="552.08" cy="1291.25" r="3.75"/><circle cx="552.08" cy="1315.25" r="3.75"/><circle cx="552.08" cy="1351.60" r="3.75"/><circle cx="569.25" cy="1191.00" r="3.75"/><circle cx="569.25" cy="1217.25" r="3.75"/><circle cx="569.25" cy="1231.90" r="3.75"/><circle cx="569.25" cy="1243.50" r="3.75"/><circle cx="569.25" cy="1256.90" r="3.75"/><circle cx="569.25" cy="1267.25" r="3.75"/><circle cx="569.25" cy="1296.25" r="3.75"/><circle cx="569.25" cy="1300.60" r="3.75"/><circle cx="569.25" cy="1305.00" r="3.75"/><circle cx="586.42" cy="1222.50" r="3.75"/><circle cx="586.42" cy="1235.25" r="3.75"/><circle cx="586.42" cy="1259.40" r="3.75"/><circle cx="586.42" cy="1334.40" r="3.75"/><circle cx="620.76" cy="1210.40" r="3.75"/><circle cx="620.76" cy="1266.00" r="3.75"/><circle cx="637.93" cy="1275.60" r="3.75"/><circle cx="655.10" cy="1195.00" r="3.75"/><circle cx="655.10" cy="1245.60" r="3.75"/><circle cx="655.10" cy="1261.25" r="3.75"/><circle cx="655.10" cy="1280.60" r="3.75"/><circle cx="655.10" cy="1286.90" r="3.75"/><circle cx="655.10" cy="1307.25" r="3.75"/><circle cx="672.27" cy="1245.60" r="3.75"/><circle cx="672.27" cy="1256.25" r="3.75"/><circle cx="672.27" cy="1261.25" r="3.75"/><circle cx="672.27" cy="1271.50" r="3.75"/><circle cx="706.61" cy="1266.90" r="3.75"/><circle cx="706.61" cy="1282.50" r="3.75"/><circle cx="706.61" cy="1295.60" r="3.75"/><circle cx="723.78" cy="1256.25" r="3.75"/></g><line x1="483.4" y1="1258.1" x2="723.4" y2="1266.25" stroke="#000" stroke-width="2.7"/><path d="M471.5 1104.2 V1401.9 H736" fill="none" stroke="#000" stroke-width="1.5"/><line x1="517.64" y1="1401.9" x2="517.64" y2="1405.9" stroke="#000" stroke-width="1.5"/><text transform="translate(517.64 1425.7) scale(1 1.06)" text-anchor="middle" font-weight="bold" font-size="21.2" stroke="#000" stroke-width="0.35">2</text><line x1="586.32" y1="1401.9" x2="586.32" y2="1405.9" stroke="#000" stroke-width="1.5"/><text transform="translate(586.32 1425.7) scale(1 1.06)" text-anchor="middle" font-weight="bold" font-size="21.2" stroke="#000" stroke-width="0.35">4</text><line x1="655.00" y1="1401.9" x2="655.00" y2="1405.9" stroke="#000" stroke-width="1.5"/><text transform="translate(655.00 1425.7) scale(1 1.06)" text-anchor="middle" font-weight="bold" font-size="21.2" stroke="#000" stroke-width="0.35">6</text><line x1="723.68" y1="1401.9" x2="723.68" y2="1405.9" stroke="#000" stroke-width="1.5"/><text transform="translate(723.68 1425.7) scale(1 1.06)" text-anchor="middle" font-weight="bold" font-size="21.2" stroke="#000" stroke-width="0.35">8</text><line x1="467.0" y1="1107.4" x2="471.5" y2="1107.4" stroke="#000" stroke-width="1.5"/><text transform="translate(463.0 1115.4) scale(1 1.06)" text-anchor="end" font-weight="bold" font-size="21.2" stroke="#000" stroke-width="0.35">1.6</text><line x1="467.0" y1="1176.7" x2="471.5" y2="1176.7" stroke="#000" stroke-width="1.5"/><text transform="translate(463.0 1184.7) scale(1 1.06)" text-anchor="end" font-weight="bold" font-size="21.2" stroke="#000" stroke-width="0.35">1.4</text><line x1="467.0" y1="1246.1" x2="471.5" y2="1246.1" stroke="#000" stroke-width="1.5"/><text transform="translate(463.0 1254.1) scale(1 1.06)" text-anchor="end" font-weight="bold" font-size="21.2" stroke="#000" stroke-width="0.35">1.2</text><line x1="467.0" y1="1315.5" x2="471.5" y2="1315.5" stroke="#000" stroke-width="1.5"/><text transform="translate(463.0 1323.5) scale(1 1.06)" text-anchor="end" font-weight="bold" font-size="21.2" stroke="#000" stroke-width="0.35">1.0</text><line x1="467.0" y1="1384.8" x2="471.5" y2="1384.8" stroke="#000" stroke-width="1.5"/><text transform="translate(463.0 1392.8) scale(1 1.06)" text-anchor="end" font-weight="bold" font-size="21.2" stroke="#000" stroke-width="0.35">0.8</text><text transform="translate(603.75 1450.4) scale(1 1.04)" text-anchor="middle" font-weight="bold" font-size="21.5" stroke="#000" stroke-width="0.35">EDSS</text><text transform="translate(402.7 1253.05) rotate(-90) scale(1 1.04)" text-anchor="middle" font-weight="bold" font-size="21.5" stroke="#000" stroke-width="0.35">T1 lesion DVR</text><text x="484" y="1394.4" font-size="20.0"><tspan font-style="italic">R</tspan> = <tspan font-size="17" dy="-1.3" dx="-0.6">–</tspan><tspan dx="2.6" dy="1.3">0.013</tspan>, <tspan font-style="italic">p</tspan> = 0.9</text></g>
</svg></body></html>
